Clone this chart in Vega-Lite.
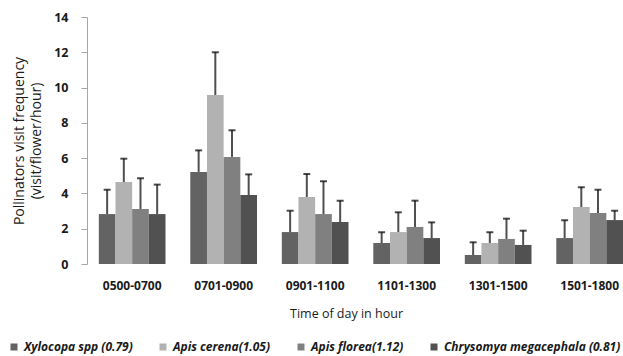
{
  "$schema": "https://vega.github.io/schema/vega-lite/v6.json",
  "width": 536,
  "height": 247,
  "autosize": {"type": "none"},
  "padding": {"left": 87, "top": 17, "right": 0, "bottom": 92},
  "background": "white",
  "config": {
    "view": {"stroke": null},
    "font": "Open Sans",
    "axisY": {
      "labelOverlap": false,
      "values": [0, 2, 4, 6, 8, 10, 12, 14],
      "grid": false,
      "domainColor": "#a6a6a6",
      "tickColor": "#a6a6a6",
      "tickSize": 6,
      "labelFontSize": 12.5,
      "labelFontWeight": "bold",
      "labelColor": "#1a1a1a",
      "labelPadding": 13,
      "titleFontSize": 14,
      "titleFontWeight": "normal",
      "titleColor": "#1a1a1a",
      "titlePadding": 10,
      "titleLineHeight": 17
    }
  },
  "data": {
    "values": [
      {"time": "0500-0700", "species": "Xylocopa spp (0.79)", "value": 2.83, "err": 4.21},
      {"time": "0500-0700", "species": "Apis cerena(1.05)", "value": 4.65, "err": 5.97},
      {"time": "0500-0700", "species": "Apis florea(1.12)", "value": 3.12, "err": 4.86},
      {"time": "0500-0700", "species": "Chrysomya megacephala (0.81)", "value": 2.83, "err": 4.5},
      {"time": "0701-0900", "species": "Xylocopa spp (0.79)", "value": 5.22, "err": 6.44},
      {"time": "0701-0900", "species": "Apis cerena(1.05)", "value": 9.58, "err": 12.0},
      {"time": "0701-0900", "species": "Apis florea(1.12)", "value": 6.07, "err": 7.58},
      {"time": "0701-0900", "species": "Chrysomya megacephala (0.81)", "value": 3.91, "err": 5.08},
      {"time": "0901-1100", "species": "Xylocopa spp (0.79)", "value": 1.81, "err": 3.02},
      {"time": "0901-1100", "species": "Apis cerena(1.05)", "value": 3.8, "err": 5.1},
      {"time": "0901-1100", "species": "Apis florea(1.12)", "value": 2.83, "err": 4.69},
      {"time": "0901-1100", "species": "Chrysomya megacephala (0.81)", "value": 2.38, "err": 3.59},
      {"time": "1101-1300", "species": "Xylocopa spp (0.79)", "value": 1.19, "err": 1.8},
      {"time": "1101-1300", "species": "Apis cerena(1.05)", "value": 1.81, "err": 2.93},
      {"time": "1101-1300", "species": "Apis florea(1.12)", "value": 2.1, "err": 3.59},
      {"time": "1101-1300", "species": "Chrysomya megacephala (0.81)", "value": 1.47, "err": 2.36},
      {"time": "1301-1500", "species": "Xylocopa spp (0.79)", "value": 0.51, "err": 1.23},
      {"time": "1301-1500", "species": "Apis cerena(1.05)", "value": 1.19, "err": 1.8},
      {"time": "1301-1500", "species": "Apis florea(1.12)", "value": 1.42, "err": 2.57},
      {"time": "1301-1500", "species": "Chrysomya megacephala (0.81)", "value": 1.08, "err": 1.89},
      {"time": "1501-1800", "species": "Xylocopa spp (0.79)", "value": 1.47, "err": 2.48},
      {"time": "1501-1800", "species": "Apis cerena(1.05)", "value": 3.23, "err": 4.35},
      {"time": "1501-1800", "species": "Apis florea(1.12)", "value": 2.89, "err": 4.21},
      {"time": "1501-1800", "species": "Chrysomya megacephala (0.81)", "value": 2.49, "err": 3.02}
    ]
  },
  "encoding": {
    "x": {
      "field": "time",
      "type": "nominal",
      "sort": null,
      "scale": {"paddingInner": 0.271, "paddingOuter": 0.0645, "align": 1},
      "axis": {
        "title": "Time of day in hour",
        "domain": false,
        "ticks": false,
        "labelAngle": 0,
        "labelFontSize": 12,
        "labelFontWeight": "bold",
        "labelColor": "#1a1a1a",
        "labelPadding": 16,
        "titleFontSize": 12.5,
        "titleFontWeight": "normal",
        "titleColor": "#1a1a1a",
        "titlePadding": 16,
        "titleX": 259
      }
    },
    "xOffset": {
      "field": "species",
      "type": "nominal",
      "sort": ["Xylocopa spp (0.79)", "Apis cerena(1.05)", "Apis florea(1.12)", "Chrysomya megacephala (0.81)"],
      "scale": {"paddingInner": 0, "paddingOuter": 0}
    }
  },
  "layer": [
    {
      "mark": {"type": "bar"},
      "encoding": {
        "y": {
          "field": "value",
          "type": "quantitative",
          "scale": {"domain": [0, 14], "nice": false},
          "title": ["Pollinators  visit frequency", "(visit/flower/hour)"]
        },
        "color": {
          "field": "species",
          "type": "nominal",
          "sort": ["Xylocopa spp (0.79)", "Apis cerena(1.05)", "Apis florea(1.12)", "Chrysomya megacephala (0.81)"],
          "scale": {
            "domain": ["Xylocopa spp (0.79)", "Apis cerena(1.05)", "Apis florea(1.12)", "Chrysomya megacephala (0.81)"],
            "range": ["#636363", "#b2b2b2", "#808080", "#515151"]
          },
          "legend": {
            "title": null,
            "orient": "none",
            "direction": "horizontal",
            "columns": 4,
            "legendX": -79,
            "legendY": 324,
            "symbolType": "square",
            "symbolSize": 49,
            "symbolStrokeWidth": 0,
            "labelFontSize": 12,
            "labelFontStyle": "italic",
            "labelFontWeight": "bold",
            "labelColor": "#1a1a1a",
            "labelLimit": 400,
            "labelOffset": 4,
            "columnPadding": 24
          }
        }
      }
    },
    {
      "mark": {"type": "rule", "color": "#505050", "strokeWidth": 2},
      "encoding": {
        "y": {"field": "value", "type": "quantitative", "title": ["Pollinators  visit frequency", "(visit/flower/hour)"]},
        "y2": {"field": "err"}
      }
    },
    {
      "mark": {"type": "tick", "color": "#000000", "thickness": 2, "size": 7},
      "encoding": {
        "y": {"field": "err", "type": "quantitative", "title": ["Pollinators  visit frequency", "(visit/flower/hour)"]}
      }
    }
  ]
}
